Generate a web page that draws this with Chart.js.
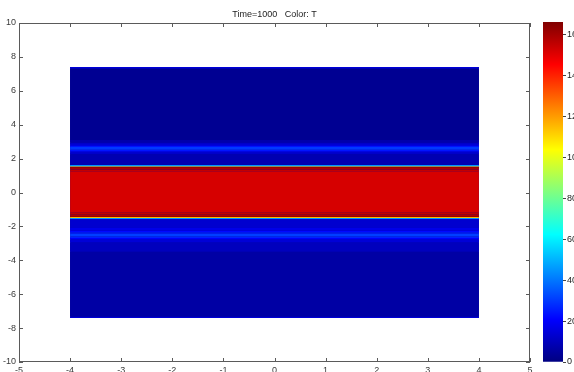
<!DOCTYPE html>
<html>
<head>
<meta charset="utf-8">
<script src="https://cdn.jsdelivr.net/npm/chart.js@4.4.1/dist/chart.umd.min.js"></script>
<style>
  html, body { margin: 0; padding: 0; background: #fff; }
  body { width: 574px; height: 372px; overflow: hidden; position: relative; }
  #main { position: absolute; left: 0; top: 0; }
  #bar { position: absolute; left: 530px; top: 0; }
</style>
</head>
<body>
<canvas id="main" width="574" height="392"></canvas>
<canvas id="bar" width="60" height="392"></canvas>
<script>
// domain of the field (x extent) and row edges in y, top to bottom
const xRange = [-4, 4];
const yEdges = [7.4, 7.32, 3.1, 2.95, 2.85, 2.76, 2.68, 2.52, 2.44, 2.36, 2.25, 1.62, 1.55, 1.5,
  1.44, 1.36, 1.26, -1.16, -1.28, -1.38, -1.45, -1.5, -1.57, -2.1, -2.25, -2.35, -2.43,
  -2.6, -2.68, -2.78, -2.95, -3.5, -7.32, -7.4];
// temperature of each row between consecutive edges
const rowTemps = [14, 3, 7, 12, 18, 24, 30, 24, 18, 12, 8, 45, 115,
  162, 159, 155, 152, 155, 158, 162, 115, 45, 13, 17, 22, 27,
  31, 26, 20, 14, 10, 6, 14];
const backgroundTemp = 4;

const xTicks = [-5, -4, -3, -2, -1, 0, 1, 2, 3, 4, 5];
const yTicks = [-10, -8, -6, -4, -2, 0, 2, 4, 6, 8, 10];
const colorTicks = [0, 20, 40, 60, 80, 100, 120, 140, 160];
const colorMax = 166;

const FONT = "'Liberation Sans', Arial, sans-serif";

// matlab "jet"
function jet(v) {
  const t = Math.min(1, Math.max(0, v / colorMax));
  const c = x => Math.round(255 * Math.min(1, Math.max(0, x)));
  const r = c(1.5 - Math.abs(4 * t - 3));
  const g = c(1.5 - Math.abs(4 * t - 2));
  const b = c(1.5 - Math.abs(4 * t - 1));
  return `rgb(${r},${g},${b})`;
}

function rowDataset(top, bottom, temp, order) {
  return {
    data: [{ x: xRange[0], y: top }, { x: xRange[1], y: top }],
    fill: { value: bottom },
    backgroundColor: jet(temp),
    borderColor: "transparent",
    borderWidth: 0,
    pointRadius: 0,
    order,
  };
}

const datasets = rowTemps.map((temp, i) => rowDataset(yEdges[i], yEdges[i + 1], temp, 0));
// full rectangle underneath so row seams don't show white
datasets.push(rowDataset(yEdges[0], yEdges[yEdges.length - 1], backgroundTemp, 1));

// frame + inward ticks on all four sides, matlab style
const boxTicks = {
  id: "boxTicks",
  afterDraw(chart) {
    const { ctx, chartArea: a, scales: { x, y } } = chart;
    ctx.save();
    ctx.strokeStyle = "#5a5a5a";
    ctx.lineWidth = 1;
    ctx.strokeRect(Math.round(a.left) + 0.5, Math.round(a.top) + 0.5,
      Math.round(a.right - a.left) - 1, Math.round(a.bottom - a.top) - 1);
    ctx.beginPath();
    xTicks.forEach(v => {
      const px = Math.round(x.getPixelForValue(v)) + 0.5;
      ctx.moveTo(px, a.bottom); ctx.lineTo(px, a.bottom - 4);
      ctx.moveTo(px, a.top); ctx.lineTo(px, a.top + 4);
    });
    yTicks.forEach(v => {
      const py = Math.round(y.getPixelForValue(v)) + 0.5;
      ctx.moveTo(a.left, py); ctx.lineTo(a.left + 4, py);
      ctx.moveTo(a.right, py); ctx.lineTo(a.right - 4, py);
    });
    ctx.stroke();
    ctx.restore();
  },
};

new Chart(document.getElementById("main"), {
  type: "line",
  data: { datasets },
  options: {
    responsive: false,
    animation: false,
    devicePixelRatio: 1,
    layout: { padding: { left: 0, right: 44, top: 0, bottom: 0 } },
    scales: {
      x: {
        type: "linear",
        min: -5,
        max: 5,
        afterBuildTicks: s => { s.ticks = xTicks.map(value => ({ value })); },
        afterFit: s => { s.height = 30; },
        grid: { display: false, drawTicks: false },
        border: { display: false },
        ticks: { color: "#3a3a3a", font: { family: FONT, size: 9 }, padding: 3, maxRotation: 0 },
      },
      y: {
        type: "linear",
        min: -10,
        max: 10,
        afterBuildTicks: s => { s.ticks = yTicks.map(value => ({ value })); },
        afterFit: s => { s.width = 19; },
        grid: { display: false, drawTicks: false },
        border: { display: false },
        ticks: { color: "#3a3a3a", font: { family: FONT, size: 9 }, padding: 3 },
      },
    },
    plugins: {
      legend: { display: false },
      tooltip: { enabled: false },
      title: {
        display: true,
        text: "Time=1000   Color: T",
        fullSize: false,
        color: "#222",
        font: { family: FONT, size: 9, weight: "normal", lineHeight: 1.2 },
        padding: { top: 9, bottom: 3.2 },
      },
    },
  },
  plugins: [boxTicks],
});

// colorbar
new Chart(document.getElementById("bar"), {
  type: "bar",
  data: {
    labels: ["T"],
    datasets: [{
      data: [[0, colorMax]],
      barPercentage: 1,
      categoryPercentage: 1,
      borderWidth: 0,
      backgroundColor: ctx => {
        const chart = ctx.chart;
        const y = chart.scales.y;
        if (!chart.chartArea || !y) return jet(0);
        const g = chart.ctx.createLinearGradient(0, y.getPixelForValue(0), 0, y.getPixelForValue(colorMax));
        for (let i = 0; i <= 32; i++) {
          g.addColorStop(i / 32, jet(colorMax * i / 32));
        }
        return g;
      },
    }],
  },
  options: {
    responsive: false,
    animation: false,
    devicePixelRatio: 1,
    layout: { padding: { left: 13, right: 0, top: 22, bottom: 30 } },
    scales: {
      x: { display: false },
      y: {
        position: "right",
        min: 0,
        max: colorMax,
        afterBuildTicks: s => { s.ticks = colorTicks.map(value => ({ value })); },
        afterFit: s => { s.width = 27; },
        grid: { drawOnChartArea: false, drawTicks: true, tickLength: 3, color: "#444" },
        border: { display: false },
        ticks: { color: "#222", font: { family: FONT, size: 9 }, padding: 1 },
      },
    },
    plugins: { legend: { display: false }, tooltip: { enabled: false } },
  },
});
</script>
</body>
</html>
